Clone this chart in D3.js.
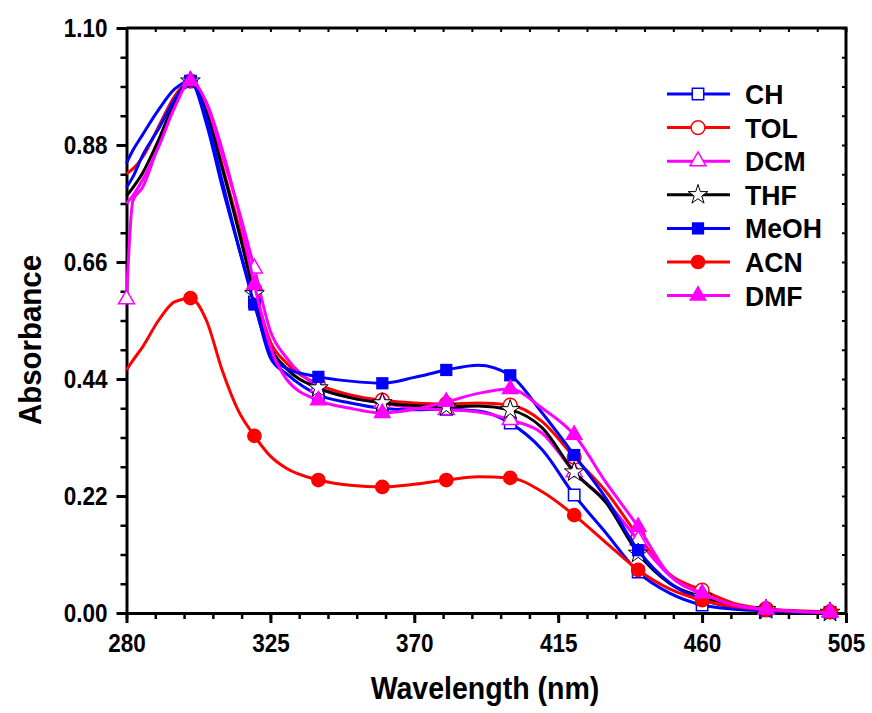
<!DOCTYPE html>
<html>
<head>
<meta charset="utf-8">
<script src="https://cdn.jsdelivr.net/npm/d3@7"></script>
<style>
    body { margin: 0; background: #fff; }
    text { font-family: "Liberation Sans", Arial, sans-serif; font-weight: bold; }
</style>
</head>
<body>
<svg width="872" height="713"></svg>
<script>
"use strict";

const WL = [280, 282, 285, 290, 295, 300, 305, 310, 315, 320, 325, 330, 340, 350, 360, 370, 380, 390, 400, 410, 420, 430, 440, 450, 460, 470, 480, 490, 500];
// wavelengths that carry a symbol
const MARK_WL = [300, 320, 340, 360, 380, 400, 420, 440, 460, 480, 500];

const CH   = [0.846, 0.87, 0.899, 0.946, 0.985, 1.00, 0.92, 0.80, 0.69, 0.585, 0.48, 0.45, 0.41, 0.395, 0.385, 0.382, 0.383, 0.380, 0.357, 0.307, 0.222, 0.150, 0.077, 0.037, 0.015, 0.007, 0.004, 0.002, 0.001];
const TOL  = [0.826, 0.835, 0.857, 0.914, 0.971, 1.00, 0.945, 0.84, 0.73, 0.61, 0.51, 0.47, 0.43, 0.41, 0.40, 0.395, 0.393, 0.395, 0.391, 0.36, 0.293, 0.228, 0.145, 0.072, 0.043, 0.018, 0.008, 0.004, 0.002];
const DCM  = [0.59, 0.775, 0.80, 0.88, 0.955, 1.00, 0.955, 0.86, 0.76, 0.648, 0.53, 0.48, 0.425, 0.405, 0.395, 0.385, 0.382, 0.378, 0.363, 0.338, 0.265, 0.21, 0.137, 0.07, 0.035, 0.015, 0.007, 0.003, 0.002];
const THF  = [0.784, 0.80, 0.827, 0.889, 0.959, 1.00, 0.94, 0.835, 0.72, 0.60, 0.50, 0.46, 0.423, 0.405, 0.395, 0.39, 0.388, 0.389, 0.382, 0.348, 0.265, 0.207, 0.112, 0.055, 0.03, 0.012, 0.006, 0.003, 0.001];
const MEOH = [0.80, 0.82, 0.86, 0.91, 0.965, 1.00, 0.93, 0.81, 0.69, 0.58, 0.49, 0.46, 0.444, 0.436, 0.432, 0.443, 0.457, 0.466, 0.447, 0.376, 0.297, 0.215, 0.118, 0.056, 0.025, 0.01, 0.005, 0.002, 0.001];
const ACN  = [0.457, 0.475, 0.50, 0.55, 0.585, 0.592, 0.55, 0.455, 0.38, 0.333, 0.295, 0.272, 0.25, 0.24, 0.237, 0.242, 0.25, 0.256, 0.254, 0.228, 0.184, 0.132, 0.081, 0.045, 0.024, 0.012, 0.006, 0.003, 0.002];
const DMF  = [0.77, 0.785, 0.814, 0.876, 0.95, 1.00, 0.96, 0.87, 0.755, 0.617, 0.50, 0.44, 0.40, 0.385, 0.376, 0.383, 0.397, 0.413, 0.421, 0.385, 0.335, 0.245, 0.162, 0.07, 0.037, 0.015, 0.007, 0.003, 0.001];

const X_TICKS = [280, 325, 370, 415, 460, 505];
const Y_TICKS = [0.00, 0.22, 0.44, 0.66, 0.88, 1.10];

const series = [
    { name: "CH",   values: CH,   color: "#0000ff", symbol: d3.symbolSquare,   size: 130, open: true },
    { name: "TOL",  values: TOL,  color: "#ff0000", symbol: d3.symbolCircle,   size: 150, open: true },
    { name: "DCM",  values: DCM,  color: "#ff00ff", symbol: d3.symbolTriangle, size: 110, open: true, extra: [280] },
    { name: "THF",  values: THF,  color: "#000000", symbol: d3.symbolStar,     size: 120, open: true },
    { name: "MeOH", values: MEOH, color: "#0000ff", symbol: d3.symbolSquare,   size: 150, open: false },
    { name: "ACN",  values: ACN,  color: "#ff0000", symbol: d3.symbolCircle,   size: 170, open: false },
    { name: "DMF",  values: DMF,  color: "#ff00ff", symbol: d3.symbolTriangle, size: 140, open: false }
];

const svg = d3.select("svg");
const pLeft = 126.5, pRight = 846, pTop = 28, pBottom = 613;

const x = d3.scaleLinear().domain([280, 505]).range([pLeft, pRight]);
const y = d3.scaleLinear().domain([0, 1.10]).range([pBottom, pTop]);

const minorX = d3.range(280, 505.1, 9);
const minorY = d3.range(0, 1.1001, 0.055);

// squeeze text horizontally, the original uses a tall narrow bold face
function condense(sel, f) {
    sel.each(function() {
        const w = this.getComputedTextLength();
        d3.select(this).attr("textLength", w * f).attr("lengthAdjust", "spacingAndGlyphs");
    });
}

// minor ticks first, then major axes over them
svg.append("g")
    .attr("transform", `translate(0,${pBottom})`)
    .call(d3.axisBottom(x).tickValues(minorX).tickSize(6).tickFormat(""))
    .call(g => g.select(".domain").remove())
    .selectAll("line").attr("stroke-width", 2.5);
svg.append("g")
    .attr("transform", `translate(${pLeft},0)`)
    .call(d3.axisLeft(y).tickValues(minorY).tickSize(6).tickFormat(""))
    .call(g => g.select(".domain").remove())
    .selectAll("line").attr("stroke-width", 2.5);
svg.append("g")
    .attr("transform", `translate(0,${pTop})`)
    .call(d3.axisBottom(x).tickValues(minorX).tickSize(4).tickFormat(""))
    .call(g => g.select(".domain").remove())
    .selectAll("line").attr("stroke-width", 2);
svg.append("g")
    .attr("transform", `translate(${pRight},0)`)
    .call(d3.axisLeft(y).tickValues(minorY).tickSize(4).tickFormat(""))
    .call(g => g.select(".domain").remove())
    .selectAll("line").attr("stroke-width", 2);

const xAxis = svg.append("g")
    .attr("transform", `translate(0,${pBottom})`)
    .call(d3.axisBottom(x).tickValues(X_TICKS).tickSize(10).tickSizeOuter(0).tickPadding(11).tickFormat(d3.format("d")));
const yAxis = svg.append("g")
    .attr("transform", `translate(${pLeft},0)`)
    .call(d3.axisLeft(y).tickValues(Y_TICKS).tickSize(10).tickSizeOuter(0).tickPadding(9).tickFormat(d3.format(".2f")));

[xAxis, yAxis].forEach(a => {
    a.select(".domain").attr("stroke-width", 3);
    a.selectAll(".tick line").attr("stroke-width", 3);
    a.selectAll("text").attr("font-size", 25).attr("fill", "#000")
        .attr("font-family", "Liberation Sans, Arial, sans-serif").attr("font-weight", "bold")
        .call(condense, 0.9);
});

// frame top/right
svg.append("path")
    .attr("d", `M${pLeft},${pTop}H${pRight}V${pBottom}`)
    .attr("fill", "none").attr("stroke", "#000").attr("stroke-width", 3);

svg.append("text")
    .attr("x", 485).attr("y", 699)
    .attr("text-anchor", "middle").attr("font-size", 31)
    .text("Wavelength (nm)")
    .call(condense, 0.92);
svg.append("text")
    .attr("transform", `translate(41,340) rotate(-90)`)
    .attr("text-anchor", "middle").attr("font-size", 31)
    .text("Absorbance")
    .call(condense, 0.95);

const line = d3.line()
    .x(d => x(d[0]))
    .y(d => y(d[1]))
    .curve(d3.curveMonotoneX);

const plot = svg.append("g");
series.forEach(s => {
    const pts = WL.map((w, i) => [w, s.values[i]]);
    plot.append("path")
        .datum(pts)
        .attr("d", line)
        .attr("fill", "none")
        .attr("stroke", s.color)
        .attr("stroke-width", 3);
    const marks = (s.extra || []).concat(MARK_WL).map(w => [w, s.values[WL.indexOf(w)]]);
    plot.selectAll(null)
        .data(marks)
        .join("path")
        .attr("transform", d => `translate(${x(d[0])},${y(d[1])})`)
        .attr("d", d3.symbol(s.symbol, s.size))
        .attr("fill", s.open ? "#fff" : s.color)
        .attr("stroke", s.open ? s.color : "none")
        .attr("stroke-width", s.name === "THF" ? 1 : 1.5);
});

// legend
const legend = svg.append("g").attr("transform", "translate(667,94)");
series.forEach((s, i) => {
    const row = legend.append("g").attr("transform", `translate(0,${i * 33.6})`);
    row.append("line").attr("x1", 0).attr("x2", 63).attr("stroke", s.color).attr("stroke-width", 3);
    row.append("path")
        .attr("transform", "translate(31,0)")
        .attr("d", d3.symbol(s.symbol, s.size))
        .attr("fill", s.open ? "#fff" : s.color)
        .attr("stroke", s.open ? s.color : "none")
        .attr("stroke-width", s.name === "THF" ? 1 : 1.5);
    row.append("text")
        .attr("x", 78).attr("y", 10)
        .attr("font-size", 28)
        .text(s.name)
        .call(condense, 0.95);
});
</script>
</body>
</html>
